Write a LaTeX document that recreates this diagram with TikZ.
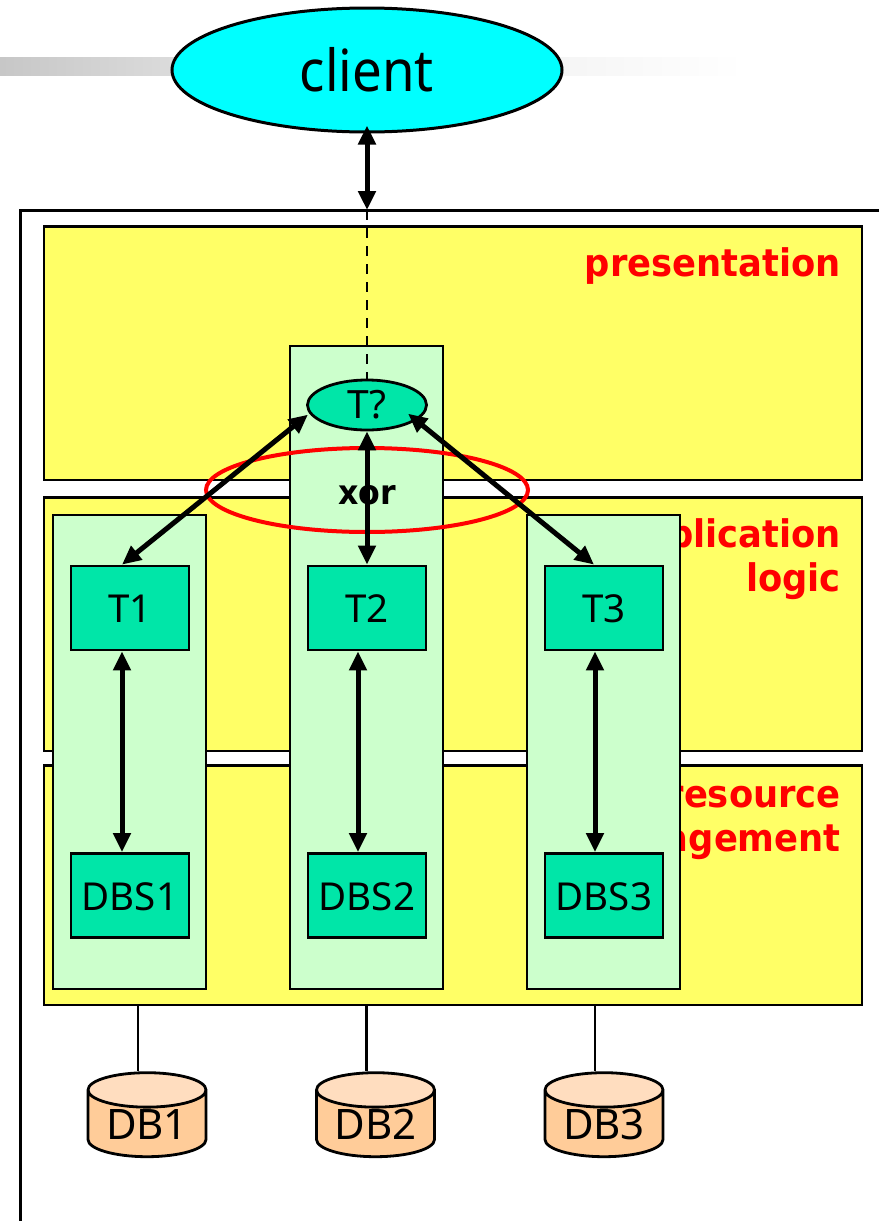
\documentclass[tikz,border=0pt]{standalone}
\usepackage{fontspec}
\setmainfont{Noto Sans}
\newfontfamily\boldfam[FakeStretch=0.93,BoldFont={DejaVu Sans Bold}]{DejaVu Sans}
\newfontfamily\clientfam[FakeStretch=0.91]{Noto Sans}
\usetikzlibrary{shapes.geometric,arrows.meta,calc}
\definecolor{layeryellow}{HTML}{FFFF66}
\definecolor{colgreen}{HTML}{CCFFCC}
\definecolor{teal}{HTML}{00E6A8}
\definecolor{aqua}{HTML}{00FFFF}
\definecolor{dbbody}{HTML}{FFCC99}
\definecolor{dbtop}{HTML}{FFDDBF}
\newcommand\lowtext[1]{\raisebox{-2pt}{#1}}
\tikzset{
  x=1pt,y=-1pt,
  layerbox/.style={draw=black,line width=2.8pt,fill=layeryellow},
  colbox/.style={draw=black,line width=2.8pt,fill=colgreen},
  compbox/.style={draw=black,line width=2.8pt,fill=teal,minimum width=118pt,minimum height=84pt,inner sep=0pt,text depth=0pt,font=\fontsize{38.5}{40}\selectfont},
  layertext/.style={text=red,font=\boldfam\bfseries\fontsize{38}{44}\selectfont,align=right,anchor=north east,inner sep=0pt},
  dbcyl/.style={cylinder,shape border rotate=90,aspect=0.42,draw=black,line width=2.8pt,cylinder uses custom fill,cylinder body fill=dbbody,cylinder end fill=dbtop,minimum width=118pt,minimum height=84pt,inner sep=0pt,font=\fontsize{42}{44}\selectfont},
  biarrow/.style={line width=5pt,{Triangle[length=19pt,width=17pt]}-{Triangle[length=19pt,width=17pt]}},
  thinline/.style={draw=black,line width=2.6pt},
}
\begin{document}
\begin{tikzpicture}
\useasboundingbox (0,0) rectangle (879,1221);
\clip (0,0) rectangle (879,1221);
% gradient band
\shade[left color=black!22,right color=black!14] (0,57) rectangle (175,75);
\shade[left color=black!4,right color=white] (555,57) rectangle (745,75);
% outer frame
\draw[line width=2.6pt] (879,210.5) -- (20.5,210.5) -- (20.5,1221);
% layers
\draw[layerbox] (44,226.5) rectangle (862,480);
\draw[layerbox] (44,497.5) rectangle (862,751);
\draw[layerbox] (44,765.5) rectangle (862,1005);
\node[layertext] (lp) at (841,247) {presentation};
\node[layertext] (la) at (841,518) {application\\logic};
\node[layertext] (lr) at (841,786) {resource\\management};
% columns
\draw[colbox] (53,515) rectangle (206,989);
\draw[colbox] (290,346) rectangle (443,989);
\draw[colbox] (527,515) rectangle (680,989);
% nodes
\node[draw=black,line width=3pt,fill=aqua,ellipse,minimum width=390pt,minimum height=124pt,inner sep=0pt,font=\clientfam\fontsize{58}{60}\selectfont] (client) at (367,70) {\lowtext{client}};
\node[draw=black,line width=2.8pt,fill=teal,ellipse,minimum width=119pt,minimum height=50pt,inner sep=0pt,font=\fontsize{39}{40}\selectfont] (tq) at (367,405) {T?};
\node[compbox] (t1) at (130,608) {\lowtext{T1}};
\node[compbox] (t2) at (367,608) {\lowtext{T2}};
\node[compbox] (t3) at (604,608) {\lowtext{T3}};
\node[compbox] (d1) at (130,895.5) {\lowtext{DBS1}};
\node[compbox] (d2) at (367,895.5) {\lowtext{DBS2}};
\node[compbox] (d3) at (604,895.5) {\lowtext{DBS3}};
\node[dbcyl] (db1) at (147,1124) {DB1};
\node[dbcyl] (db2) at (375.5,1124) {DB2};
\node[dbcyl] (db3) at (604,1124) {DB3};
% dashed link
\coordinate (frametop) at (367,210);
\draw[line width=2.4pt,dash pattern=on 10pt off 8pt] (frametop) -- (tq.north);
\draw[biarrow,shorten <=-8pt] (client.south) -- (frametop);
% red ellipse
\node[draw=red,line width=4pt,ellipse,minimum width=322pt,minimum height=84pt,inner sep=0pt] (xorring) at (367,490) {};
% arrows
\draw[biarrow] (tq.south west) ++(-16,-9) coordinate (tql) (tql) -- ($(t1.north)+(-8,0)$);
\draw[biarrow] (tq.south) -- (t2.north);
\draw[biarrow] (tq.south east) ++(-2,-10) coordinate (tqr) (tqr) -- ($(t3.north)+(-10,0)$);
\draw[biarrow] ($(t1.south)+(-8,0)$) -- ($(d1.north)+(-8,0)$);
\draw[biarrow] ($(t2.south)+(-9,0)$) -- ($(d2.north)+(-9,0)$);
\draw[biarrow] ($(t3.south)+(-9,0)$) -- ($(d3.north)+(-9,0)$);
\node[font=\boldfam\bfseries\fontsize{34}{36}\selectfont,inner sep=0pt] (xorlabel) at (367,495) {xor};
% db links
\coordinate (l1) at (138,1005);
\coordinate (l2) at (366.5,1005);
\coordinate (l3) at (595,1005);
\draw[thinline] (l1) -- (l1 |- db1.north);
\draw[thinline] (l2) -- (l2 |- db2.north);
\draw[thinline] (l3) -- (l3 |- db3.north);
\end{tikzpicture}
\end{document}
